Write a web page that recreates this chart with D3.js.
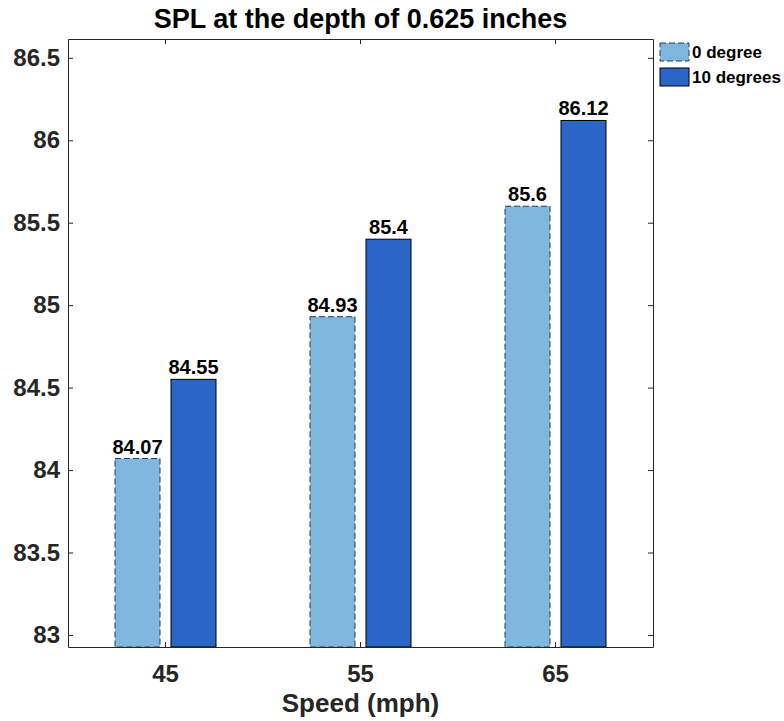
<!DOCTYPE html>
<html><head><meta charset="utf-8">
<script src="https://cdn.jsdelivr.net/npm/d3@7"></script>
<style>body{margin:0;background:#fff}svg{display:block}text{font-family:Arial,"Liberation Sans",Helvetica,sans-serif}</style>
</head><body>
<svg id="c" width="784" height="721"></svg>
<script>
const categories = ["45", "55", "65"];
const seriesNames = ["0 degree", "10 degrees"];
const series0 = [84.07, 84.93, 85.6];
const series1 = [84.55, 85.4, 86.12];
const valueLabels0 = ["84.07", "84.93", "85.6"];
const valueLabels1 = ["84.55", "85.4", "86.12"];
const yTicks = [83, 83.5, 84, 84.5, 85, 85.5, 86, 86.5];
const colors = ["#7FB7DF", "#2A66C5"];

const svg = d3.select("#c");
const L = 68, R = 653, T = 39, B = 647;
const x = d3.scaleBand().domain(categories).range([L, R]).padding(0);
const y = d3.scaleLinear().domain([82.927, 86.614]).range([B, T]);
const barW = 45, off = 28;
const tickCol = "#262626";

// bars
const data = categories.map((c, i) => ({c, v0: series0[i], v1: series1[i], l0: valueLabels0[i], l1: valueLabels1[i]}));
const g = svg.append("g");
data.forEach(d => {
  const cx = x(d.c) + x.bandwidth() / 2;
  g.append("rect").attr("x", cx - off - barW/2).attr("y", y(d.v0)).attr("width", barW).attr("height", B - y(d.v0))
    .attr("fill", colors[0]).attr("stroke", "#2b3a4a").attr("stroke-width", 1).attr("stroke-dasharray", "6,3");
  g.append("rect").attr("x", cx + off - barW/2).attr("y", y(d.v1)).attr("width", barW).attr("height", B - y(d.v1))
    .attr("fill", colors[1]).attr("stroke", "#000").attr("stroke-width", 1);
  g.append("text").attr("x", cx - off).attr("y", y(d.v0) - 5).attr("text-anchor", "middle")
    .attr("font-size", 20).attr("font-weight", "bold").attr("fill", "#000").text(d.l0);
  g.append("text").attr("x", cx + off).attr("y", y(d.v1) - 5).attr("text-anchor", "middle")
    .attr("font-size", 20).attr("font-weight", "bold").attr("fill", "#000").text(d.l1);
});

// axes
const yAx = svg.append("g").attr("transform", `translate(${L},0)`)
  .call(d3.axisLeft(y).tickValues(yTicks).tickSizeInner(-5).tickSizeOuter(0).tickPadding(8).tickFormat(d3.format("")));
const yAxR = svg.append("g").attr("transform", `translate(${R},0)`)
  .call(d3.axisRight(y).tickValues(yTicks).tickSizeInner(-5).tickSizeOuter(0).tickFormat(""));
const xAx = svg.append("g").attr("transform", `translate(0,${B})`)
  .call(d3.axisBottom(x).tickSizeInner(-5).tickSizeOuter(0).tickPadding(18));
const xAxT = svg.append("g").attr("transform", `translate(0,${T})`)
  .call(d3.axisTop(x).tickSizeInner(-5).tickSizeOuter(0).tickFormat(""));
[yAx, yAxR, xAx, xAxT].forEach(a => {
  a.select(".domain").attr("stroke", tickCol);
  a.selectAll(".tick line").attr("stroke", tickCol);
  a.selectAll(".tick text").attr("font-size", 24).attr("font-weight", "bold").attr("fill", tickCol)
    .attr("font-family", "Arial, 'Liberation Sans', sans-serif");
});

// title and labels
svg.append("text").attr("x", (L + R) / 2).attr("y", 28).attr("text-anchor", "middle")
  .attr("font-size", 27).attr("font-weight", "bold").attr("fill", "#000").text("SPL at the depth of 0.625 inches");
svg.append("text").attr("x", (L + R) / 2).attr("y", 712).attr("text-anchor", "middle")
  .attr("font-size", 26).attr("font-weight", "bold").attr("fill", tickCol).text("Speed (mph)");

// legend
const lg = svg.append("g");
seriesNames.forEach((n, i) => {
  const yy = 43 + i * 25;
  lg.append("rect").attr("x", 660).attr("y", yy).attr("width", 29).attr("height", 18)
    .attr("fill", colors[i]).attr("stroke", i === 0 ? "#2b3a4a" : "#000").attr("stroke-width", 1)
    .attr("stroke-dasharray", i === 0 ? "6,3" : null);
  lg.append("text").attr("x", 692).attr("y", yy + 15).attr("font-size", 17).attr("font-weight", "bold")
    .attr("fill", "#000").text(n);
});
</script>
</body></html>
